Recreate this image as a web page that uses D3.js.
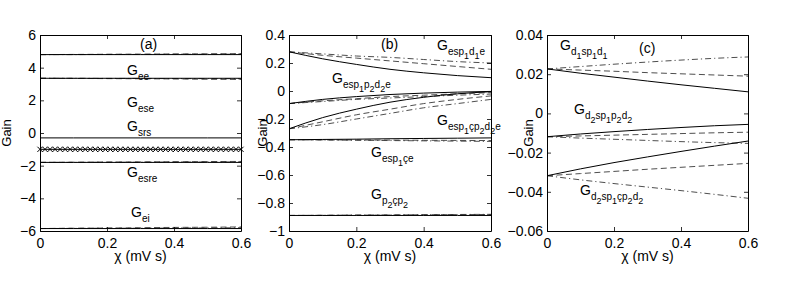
<!DOCTYPE html>
<html>
<head>
<meta charset="utf-8">
<script src="https://cdn.jsdelivr.net/npm/d3@7"></script>
<style>
body { margin: 0; background: #fff; }
text { font-family: "Liberation Sans", Arial, sans-serif; }
</style>
</head>
<body>
<script>
/* chi values (mV s) the curves were read at */
var chi = [0, 0.1, 0.2, 0.3, 0.4, 0.5, 0.6];
var chiMarks = [0, 0.015, 0.03, 0.045, 0.06, 0.075, 0.09, 0.105, 0.12, 0.135, 0.15, 0.165, 0.18, 0.195,
 0.21, 0.225, 0.24, 0.255, 0.27, 0.285, 0.3, 0.315, 0.33, 0.345, 0.36, 0.375, 0.39, 0.405, 0.42,
 0.435, 0.45, 0.465, 0.48, 0.495, 0.51, 0.525, 0.54, 0.555, 0.57, 0.585, 0.6];

/* panel (a) */
var aEeSolid   = [4.8, 4.8, 4.8, 4.8, 4.8, 4.8, 4.8];
var aEeDash    = [4.8, 4.81, 4.82, 4.83, 4.84, 4.85, 4.86];
var aEeDot     = [4.8, 4.8, 4.81, 4.81, 4.82, 4.82, 4.83];
var aEseSolid  = [3.35, 3.35, 3.35, 3.35, 3.35, 3.35, 3.35];
var aEseDash   = [3.35, 3.34, 3.33, 3.32, 3.31, 3.29, 3.28];
var aEseDot    = [3.35, 3.35, 3.34, 3.34, 3.33, 3.33, 3.32];
var aSrs       = [-0.3, -0.3, -0.3, -0.3, -0.3, -0.3, -0.3];
var aCross     = [-1, -1, -1, -1, -1, -1, -1, -1, -1, -1, -1, -1, -1, -1, -1, -1, -1, -1, -1, -1, -1,
 -1, -1, -1, -1, -1, -1, -1, -1, -1, -1, -1, -1, -1, -1, -1, -1, -1, -1, -1, -1];
var aEsreSolid = [-1.8, -1.8, -1.8, -1.8, -1.8, -1.8, -1.8];
var aEsreDash  = [-1.8, -1.79, -1.78, -1.77, -1.76, -1.75, -1.74];
var aEsreDot   = [-1.8, -1.8, -1.79, -1.79, -1.78, -1.78, -1.77];
var aEiSolid   = [-5.85, -5.85, -5.85, -5.85, -5.85, -5.85, -5.85];
var aEiDash    = [-5.85, -5.83, -5.82, -5.8, -5.78, -5.77, -5.75];
var aEiDot     = [-5.85, -5.84, -5.83, -5.83, -5.82, -5.81, -5.8];

/* panel (b) */
var bAsolid = [0.28, 0.23, 0.19, 0.155, 0.13, 0.11, 0.095];
var bAdash  = [0.28, 0.255, 0.235, 0.215, 0.195, 0.175, 0.155];
var bAdot   = [0.28, 0.265, 0.25, 0.24, 0.225, 0.21, 0.2];
var bBsolid = [-0.09, -0.06, -0.04, -0.025, -0.015, -0.008, -0.003];
var bBdash  = [-0.09, -0.07, -0.055, -0.04, -0.03, -0.02, -0.012];
var bBdot   = [-0.09, -0.075, -0.06, -0.05, -0.04, -0.03, -0.022];
var bCsolid = [-0.27, -0.19, -0.13, -0.08, -0.045, -0.02, -0.005];
var bCdash  = [-0.27, -0.22, -0.17, -0.13, -0.09, -0.06, -0.035];
var bCdot   = [-0.27, -0.24, -0.2, -0.16, -0.12, -0.09, -0.06];
var bDsolid = [-0.348, -0.346, -0.344, -0.341, -0.339, -0.337, -0.335];
var bDdash  = [-0.348, -0.349, -0.35, -0.351, -0.352, -0.353, -0.354];
var bDdot   = [-0.348, -0.35, -0.352, -0.354, -0.356, -0.358, -0.36];
var bEsolid = [-0.889, -0.889, -0.889, -0.889, -0.889, -0.889, -0.889];
var bEdash  = [-0.889, -0.888, -0.887, -0.886, -0.884, -0.883, -0.882];
var bEdot   = [-0.889, -0.888, -0.886, -0.885, -0.884, -0.882, -0.881];

/* panel (c) */
var cAsolid = [0.0227, 0.0205, 0.0185, 0.0165, 0.0146, 0.0128, 0.011];
var cAdash  = [0.0227, 0.0221, 0.0215, 0.0208, 0.0202, 0.0196, 0.019];
var cAdot   = [0.0227, 0.0239, 0.0251, 0.0262, 0.0272, 0.0281, 0.0288];
var cBsolid = [-0.0119, -0.0105, -0.0093, -0.0082, -0.0072, -0.0063, -0.0056];
var cBdash  = [-0.0119, -0.0115, -0.0111, -0.0107, -0.0103, -0.0099, -0.0096];
var cBdot   = [-0.0119, -0.0126, -0.0132, -0.0138, -0.0144, -0.0149, -0.0153];
var cCsolid = [-0.0318, -0.0283, -0.0251, -0.0222, -0.0194, -0.0167, -0.0141];
var cCdash  = [-0.0318, -0.0307, -0.0296, -0.0285, -0.0275, -0.0265, -0.0255];
var cCdot   = [-0.0318, -0.0339, -0.0358, -0.0376, -0.0394, -0.0413, -0.0433];

var xTicks = [0, 0.2, 0.4, 0.6];
var aTicks = [-6, -4, -2, 0, 2, 4, 6];
var bTicks = [-1, -0.8, -0.6, -0.4, -0.2, 0, 0.2, 0.4];
var cTicks = [-0.06, -0.04, -0.02, 0, 0.02, 0.04];

/* labels: [text, level] level 0 = normal, 1 = subscript, 2 = sub-subscript */
var aLabels = [
 {x: 140, y: 49, parts: [["(a)", 0]]},
 {x: 127, y: 75, parts: [["G", 0], ["ee", 1]]},
 {x: 127, y: 107, parts: [["G", 0], ["ese", 1]]},
 {x: 127, y: 131, parts: [["G", 0], ["srs", 1]]},
 {x: 127, y: 177, parts: [["G", 0], ["esre", 1]]},
 {x: 131, y: 217, parts: [["G", 0], ["ei", 1]]}
];
var bLabels = [
 {x: 381, y: 49, parts: [["(b)", 0]]},
 {x: 437, y: 50, parts: [["G", 0], ["esp", 1], ["1", 2], ["d", 1], ["1", 2], ["e", 1]]},
 {x: 332, y: 83, parts: [["G", 0], ["esp", 1], ["1", 2], ["p", 1], ["2", 2], ["d", 1], ["2", 2], ["e", 1]]},
 {x: 437, y: 125, parts: [["G", 0], ["esp", 1], ["1", 2], ["çp", 1], ["2", 2], ["d", 1], ["2", 2], ["e", 1]]},
 {x: 371, y: 157, parts: [["G", 0], ["esp", 1], ["1", 2], ["çe", 1]]},
 {x: 371, y: 199, parts: [["G", 0], ["p", 1], ["2", 2], ["çp", 1], ["2", 2]]}
];
var cLabels = [
 {x: 639, y: 53, parts: [["(c)", 0]]},
 {x: 560, y: 50, parts: [["G", 0], ["d", 1], ["1", 2], ["sp", 1], ["1", 2], ["d", 1], ["1", 2]]},
 {x: 574, y: 114, parts: [["G", 0], ["d", 1], ["2", 2], ["sp", 1], ["1", 2], ["p", 1], ["2", 2], ["d", 1], ["2", 2]]},
 {x: 580, y: 195, parts: [["G", 0], ["d", 1], ["2", 2], ["sp", 1], ["1", 2], ["çp", 1], ["2", 2], ["d", 1], ["2", 2]]}
];

var W = 804, H = 281;
var plotTop = 35, plotBottom = 231;
var dashStyle = "6,3.5";
var dotStyle = "6,3,1.2,3";

var svg = d3.select("body").append("svg").attr("width", W).attr("height", H);

function fmt(d) {
 if (d === 0) return "0";
 return String(+d.toFixed(2)).replace("-", "\u2212");
}

function drawPanel(left, right, yDomain, yTicks, series, labels, crosses, gainOff) {
 var x = d3.scaleLinear().domain([0, 0.6]).range([left, right]);
 var y = d3.scaleLinear().domain(yDomain).range([plotBottom, plotTop]);
 var g = svg.append("g");

 var line = d3.line()
  .x(function(d) { return x(d[0]); })
  .y(function(d) { return y(d[1]); })
  .curve(d3.curveMonotoneX);

 series.forEach(function(s) {
  var pts = chi.map(function(c, i) { return [c, s.vals[i]]; });
  g.append("path").attr("d", line(pts))
   .attr("fill", "none")
   .attr("stroke", s.dash ? "#3a3a3a" : "#000")
   .attr("stroke-width", s.dash ? 0.9 : 1)
   .attr("stroke-dasharray", s.dash || null);
 });

 if (crosses) {
  var cpts = chiMarks.map(function(c, i) { return [c, crosses[i]]; });
  g.append("path").attr("d", d3.line().x(function(d) { return x(d[0]); }).y(function(d) { return y(d[1]); })(cpts))
   .attr("fill", "none").attr("stroke", "#000").attr("stroke-width", 1);
  g.selectAll("path.mark").data(cpts).enter().append("path")
   .attr("class", "mark")
   .attr("transform", function(d) { return "translate(" + x(d[0]) + "," + y(d[1]) + ")"; })
   .attr("d", "M-2.6,-2.6L2.6,2.6M-2.6,2.6L2.6,-2.6")
   .attr("stroke", "#000").attr("stroke-width", 1);
 }

 // axes, MATLAB style ticks pointing in
 var ax = g.append("g").attr("transform", "translate(0," + plotBottom + ")")
  .call(d3.axisBottom(x).tickValues(xTicks).tickFormat(fmt).tickSizeInner(-4).tickSizeOuter(0).tickPadding(7));
 var ay = g.append("g").attr("transform", "translate(" + left + ",0)")
  .call(d3.axisLeft(y).tickValues(yTicks).tickFormat(fmt).tickSizeInner(-4).tickSizeOuter(0).tickPadding(4));
 var at = g.append("g").attr("transform", "translate(0," + plotTop + ")")
  .call(d3.axisTop(x).tickValues(xTicks).tickFormat("").tickSizeInner(-4).tickSizeOuter(0));
 var ar = g.append("g").attr("transform", "translate(" + right + ",0)")
  .call(d3.axisRight(y).tickValues(yTicks).tickFormat("").tickSizeInner(-4).tickSizeOuter(0));
 [ax, ay, at, ar].forEach(function(a) {
  a.selectAll("path").attr("stroke", "#000").attr("stroke-width", 1);
  a.selectAll("line").attr("stroke", "#000").attr("stroke-width", 0.8);
  a.selectAll("text").attr("font-size", 14).attr("fill", "#000")
   .style("font-family", "'Liberation Sans', Arial, sans-serif");
 });

 g.append("text").text("Gain")
  .attr("transform", "translate(" + (left - gainOff) + "," + ((plotTop + plotBottom) / 2) + ") rotate(-90)")
  .attr("text-anchor", "middle").attr("font-size", 13);
 g.append("text").text("\u03c7 (mV s)")
  .attr("x", (left + right) / 2).attr("y", 261)
  .attr("text-anchor", "middle").attr("font-size", 14);

 labels.forEach(function(l) {
  var t = g.append("text").attr("x", l.x).attr("y", l.y).attr("font-size", 14);
  var level = 0;
  l.parts.forEach(function(p) {
   var shift = { 0: 0, 1: 5, 2: 9 };
   var size = { 0: 14, 1: 10, 2: 9 };
   t.append("tspan").text(p[0])
    .attr("dy", shift[p[1]] - shift[level])
    .attr("font-size", size[p[1]]);
   level = p[1];
  });
 });
}

drawPanel(40, 241, [-6, 6], aTicks, [
 {vals: aEeDash, dash: dashStyle}, {vals: aEeDot, dash: dotStyle}, {vals: aEeSolid},
 {vals: aEseDash, dash: dashStyle}, {vals: aEseDot, dash: dotStyle}, {vals: aEseSolid},
 {vals: aSrs},
 {vals: aEsreDash, dash: dashStyle}, {vals: aEsreDot, dash: dotStyle}, {vals: aEsreSolid},
 {vals: aEiDash, dash: dashStyle}, {vals: aEiDot, dash: dotStyle}, {vals: aEiSolid}
], aLabels, aCross, 29);

drawPanel(289, 491, [-1, 0.4], bTicks, [
 {vals: bAdash, dash: dashStyle}, {vals: bAdot, dash: dotStyle}, {vals: bAsolid},
 {vals: bBdash, dash: dashStyle}, {vals: bBdot, dash: dotStyle}, {vals: bBsolid},
 {vals: bCdash, dash: dashStyle}, {vals: bCdot, dash: dotStyle}, {vals: bCsolid},
 {vals: bDdash, dash: dashStyle}, {vals: bDdot, dash: dotStyle}, {vals: bDsolid},
 {vals: bEdash, dash: dashStyle}, {vals: bEdot, dash: dotStyle}, {vals: bEsolid}
], bLabels, null, 22);

drawPanel(547, 748, [-0.06, 0.04], cTicks, [
 {vals: cAdash, dash: dashStyle}, {vals: cAdot, dash: dotStyle}, {vals: cAsolid},
 {vals: cBdash, dash: dashStyle}, {vals: cBdot, dash: dotStyle}, {vals: cBsolid},
 {vals: cCdash, dash: dashStyle}, {vals: cCdot, dash: dotStyle}, {vals: cCsolid}
], cLabels, null, 14);
</script>
</body>
</html>
